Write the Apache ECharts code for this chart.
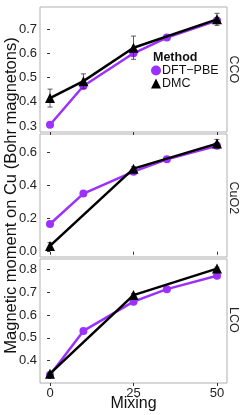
<!DOCTYPE html>
<html><head><meta charset="utf-8">
<script src="https://cdn.jsdelivr.net/npm/echarts@6/dist/echarts.min.js"></script>
<style>html,body{margin:0;padding:0;background:#fff}#c{width:249px;height:415px}</style>
</head><body><div id="c"></div>
<script>
const panels = ['CCO', 'CuO2', 'LCO'];
const dftMixing = [0, 10, 25, 35, 50];
const dftCCO = [0.305, 0.465, 0.600, 0.665, 0.735];
const dftCuO2 = [0.168, 0.352, 0.485, 0.560, 0.642];
const dftLCO = [0.337, 0.530, 0.658, 0.713, 0.772];
const dmcMixingCCO = [0, 10, 25, 50];
const dmcCCO = [0.415, 0.485, 0.623, 0.740];
const dmcErrCCO = [0.037, 0.030, 0.048, 0.025];
const dmcMixingOther = [0, 25, 50];
const dmcCuO2 = [0.035, 0.503, 0.655];
const dmcErrCuO2 = [0.020, 0.012, 0.025];
const dmcLCO = [0.343, 0.687, 0.803];
const dmcErrLCO = [0.006, 0.006, 0.006];
const xTicks = [0, 25, 50];
const yTicksCCO = [0.3, 0.4, 0.5, 0.6, 0.7];
const yTicksCuO2 = [0.0, 0.2, 0.4, 0.6];
const yTicksLCO = [0.4, 0.5, 0.6, 0.7, 0.8];

const PURPLE = '#9B30FF';
const FONT = 'Liberation Sans';
const dft = [dftCCO, dftCuO2, dftLCO];
const dmcX = [dmcMixingCCO, dmcMixingOther, dmcMixingOther];
const dmc = [dmcCCO, dmcCuO2, dmcLCO];
const dmcErr = [dmcErrCCO, dmcErrCuO2, dmcErrLCO];
const yTicks = [yTicksCCO, yTicksCuO2, yTicksLCO];
const yRange = [[0.275, 0.791], [-0.032, 0.713], [0.302, 0.845]];
const gridTops = [7, 134, 259];
const gridHeights = [125, 123, 124];

const grids = [], xAxes = [], yAxes = [], series = [];
for (let i = 0; i < 3; i++) {
  grids.push({left: 40, width: 187, top: gridTops[i], height: gridHeights[i], show: true,
    containLabel: false, outerBoundsMode: 'none',
    borderColor: '#b0b0b0', borderWidth: 1, backgroundColor: 'transparent'});
  xAxes.push({type: 'value', gridIndex: i, min: -3, max: 53,
    axisLine: {show: false}, splitLine: {show: false},
    axisTick: {show: true, length: 3, lineStyle: {color: '#333'}, customValues: xTicks},
    axisLabel: {show: i === 2, customValues: xTicks, fontSize: 13, color: '#222', margin: 4, fontFamily: FONT},
    name: i === 2 ? 'Mixing' : '', nameLocation: 'middle', nameGap: 13, nameMoveOverlap: false,
    nameTextStyle: {fontSize: 16, color: '#111', fontFamily: FONT}
  });
  yAxes.push({type: 'value', gridIndex: i, min: yRange[i][0], max: yRange[i][1],
    axisLine: {show: false}, splitLine: {show: false},
    axisTick: {show: true, length: 3, lineStyle: {color: '#333'}, customValues: yTicks[i]},
    axisLabel: {customValues: yTicks[i], fontSize: 13, color: '#222', margin: 3, fontFamily: FONT,
      formatter: v => v.toFixed(1)},
    name: i === 1 ? 'Magnetic moment on Cu (Bohr magnetons)' : '', nameLocation: 'middle', nameGap: 20, nameMoveOverlap: false,
    nameTextStyle: {fontSize: 16.5, color: '#111', fontFamily: FONT}
  });
  series.push({type: 'line', name: 'DFT\u2212PBE', xAxisIndex: i, yAxisIndex: i,
    data: dftMixing.map((x, j) => [x, dft[i][j]]),
    symbol: 'circle', symbolSize: 8, lineStyle: {color: PURPLE, width: 2.5}, itemStyle: {color: PURPLE}, z: 2});
  series.push({type: 'custom', name: 'DMC', xAxisIndex: i, yAxisIndex: i,
    data: dmcX[i].map((x, j) => [x, dmc[i][j] - dmcErr[i][j], dmc[i][j] + dmcErr[i][j]]),
    renderItem: function (params, api) {
      const lo = api.coord([api.value(0), api.value(1)]);
      const hi = api.coord([api.value(0), api.value(2)]);
      const w = 2.5;
      const st = {stroke: '#333', lineWidth: 0.8};
      return {type: 'group', children: [
        {type: 'line', shape: {x1: lo[0], y1: lo[1], x2: hi[0], y2: hi[1]}, style: st},
        {type: 'line', shape: {x1: lo[0] - w, y1: lo[1], x2: lo[0] + w, y2: lo[1]}, style: st},
        {type: 'line', shape: {x1: hi[0] - w, y1: hi[1], x2: hi[0] + w, y2: hi[1]}, style: st}
      ]};
    }, itemStyle: {color: '#000'}, z: 3, silent: true});
  series.push({type: 'line', name: 'DMC', xAxisIndex: i, yAxisIndex: i,
    data: dmcX[i].map((x, j) => [x, dmc[i][j]]),
    symbol: 'triangle', symbolSize: 10, lineStyle: {color: '#000', width: 2.5}, itemStyle: {color: '#000'}, z: 4});
}

const chart = echarts.init(document.getElementById('c'), null, {renderer: 'canvas'});
chart.setOption({
  animation: false,
  backgroundColor: '#fff',
  grid: grids, xAxis: xAxes, yAxis: yAxes, series: series,
  title: {text: 'Method', left: 153, top: 51, padding: 0,
    textStyle: {fontSize: 12.5, fontWeight: 'bold', color: '#111', fontFamily: FONT}},
  legend: {orient: 'vertical', left: 151, top: 64, padding: 0, itemGap: 0, itemWidth: 10, itemHeight: 10,
    backgroundColor: '#fff',
    data: [{name: 'DFT\u2212PBE', icon: 'circle'}, {name: 'DMC', icon: 'triangle'}],
    textStyle: {fontSize: 12.5, color: '#111', padding: [0, 0, 0, -4], fontFamily: FONT}},
  graphic: panels.map((p, i) => ({type: 'text', left: 227, top: gridTops[i] + gridHeights[i] / 2 - 14,
    rotation: -Math.PI / 2,
    style: {text: p, fontSize: 12.5, fill: '#222', fontFamily: FONT}}))
});
</script></body></html>
